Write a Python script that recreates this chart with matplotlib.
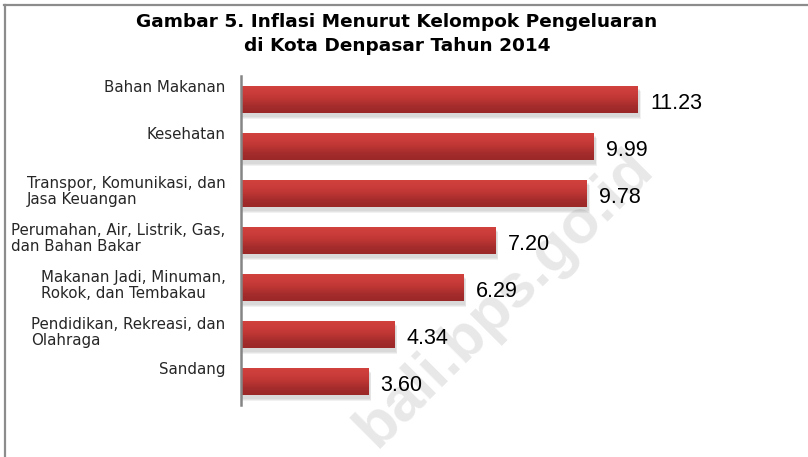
import numpy as np
import matplotlib
matplotlib.use("Agg")
import matplotlib.pyplot as plt
from matplotlib.colors import LinearSegmentedColormap
from matplotlib.lines import Line2D

# data
categories = [
    "Bahan Makanan",
    "Kesehatan",
    "Transpor, Komunikasi, dan\nJasa Keuangan",
    "Perumahan, Air, Listrik, Gas,\ndan Bahan Bakar",
    "Makanan Jadi, Minuman,\nRokok, dan Tembakau",
    "Pendidikan, Rekreasi, dan\nOlahraga",
    "Sandang",
]
values = [11.23, 9.99, 9.78, 7.20, 6.29, 4.34, 3.60]
title = "Gambar 5. Inflasi Menurut Kelompok Pengeluaran\ndi Kota Denpasar Tahun 2014"

W, H = 808, 457
fig = plt.figure(figsize=(W / 100, H / 100), dpi=100)
fig.patch.set_facecolor("white")

# outer frame (only top and left are visible)
fig.add_artist(Line2D([4 / W, 1], [1 - 5 / H, 1 - 5 / H], color="#8c8c8c", lw=1.6))
fig.add_artist(Line2D([5 / W, 5 / W], [0, 1 - 5 / H], color="#8c8c8c", lw=1.6))

# watermark, behind everything
fig.text(655 / W, 1 - 170 / H, "bali.bps.go.id", rotation=45,
         rotation_mode="anchor", ha="right", va="baseline",
         fontsize=44, fontweight="bold", family="Liberation Sans",
         color="#e8e8e8", zorder=-1)

ax = fig.add_axes([241 / W, 1 - 405 / H, 424 / W, 329 / H])
ax.set_facecolor("none")

y = np.arange(len(categories))
bh = 0.59

# soft shadow under bars
for k, a in enumerate([0.10, 0.10, 0.10]):
    d = 0.03 + k * 0.03
    ax.barh(y + 0.06 + d * 0.6, np.array(values) + 0.04 + d * 0.5, height=bh,
            color="#7a7a7a", alpha=a, zorder=1, lw=0)

bars = ax.barh(y, values, height=bh, color="#c63a38", zorder=2, lw=0)

cmap = LinearSegmentedColormap.from_list(
    "barred", ["#d2423f", "#cb3d3a", "#bd3634", "#a52c2c", "#9a2828"])
grad = np.linspace(0, 1, 64).reshape(-1, 1)
for b in bars:
    x0, y0, w, h = b.get_x(), b.get_y(), b.get_width(), b.get_height()
    im = ax.imshow(grad, extent=(x0, x0 + w, y0 + h, y0), aspect="auto",
                   cmap=cmap, origin="upper", zorder=3, interpolation="bilinear")
    im.set_clip_path(b)

for i, v in enumerate(values):
    ax.annotate(f"{v:.2f}", xy=(v, i), xytext=(9, -3), textcoords="offset points",
                ha="left", va="center", fontsize=15.5, family="Liberation Sans",
                color="black")

for i, lab in enumerate(categories):
    dy = 1.5 if "\n" in lab else 8.5
    ax.annotate(lab, xy=(0, i), xytext=(-11, dy), textcoords="offset points",
                ha="right", va="center", multialignment="left",
                fontsize=10.8, family="DejaVu Sans", color="#262626", linespacing=1.05)

ax.set_xlim(0, 12)
ax.set_ylim(len(categories) - 0.5, -0.5)
ax.set_xticks([])
ax.set_yticks([])
for s in ["top", "right", "bottom"]:
    ax.spines[s].set_visible(False)
ax.spines["left"].set_color("#858585")
ax.spines["left"].set_linewidth(1.8)
ax.spines["left"].set_zorder(5)

fig.text(397 / W, 1 - 34 / H, title, ha="center", va="center", fontsize=13.3,
         fontweight="bold", family="DejaVu Sans", color="black", linespacing=1.4)

fig.savefig("out.png", dpi=100)
